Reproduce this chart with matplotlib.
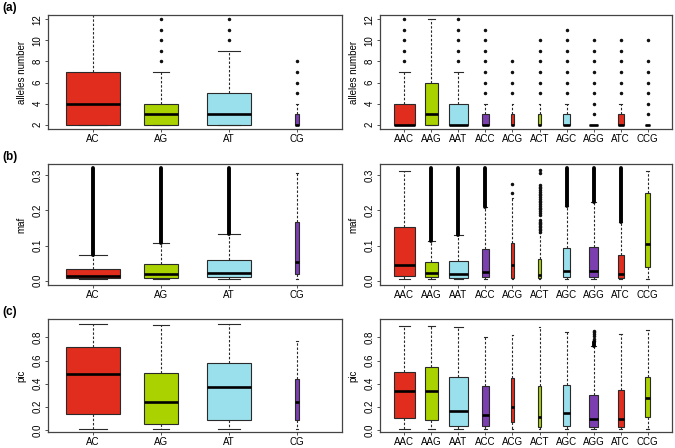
"""
plot.py -- boxplots of alleles number / maf / pic per motif
Di-nucleotide motifs on the left, tri-nucleotide motifs on the right.
"""

import matplotlib
matplotlib.use("Agg")
import matplotlib.pyplot as plt

plt.rcParams["font.family"] = ["Liberation Sans", "DejaVu Sans"]

# ---------------------------------------------------------------------------
# Data
# ---------------------------------------------------------------------------

di_labels = ["AC", "AG", "AT", "CG"]
tri_labels = ["AAC", "AAG", "AAT", "ACC", "ACG", "ACT", "AGC", "AGG", "ATC", "CCG"]

# relative group sizes (R varwidth -> box width ~ sqrt(n))
di_n = [9750, 3750, 6200, 40]
tri_n = [10000, 3750, 7900, 1060, 156, 190, 1140, 1500, 756, 506]

# alleles number
alleles_di_lo = [2, 2, 2, 2]
alleles_di_q1 = [2, 2, 2, 2]
alleles_di_med = [4, 3, 3, 2]
alleles_di_q3 = [7, 4, 5, 3]
alleles_di_hi = [14, 7, 9, 4]
alleles_di_out = [[], [8, 9, 10, 11, 12], [10, 11, 12], [5, 6, 7, 8]]

alleles_tri_lo = [2, 2, 2, 2, 2, 2, 2, 2, 2, 2]
alleles_tri_q1 = [2, 2, 2, 2, 2, 2, 2, 2, 2, 2]
alleles_tri_med = [2, 3, 2, 2, 2, 2, 2, 2, 2, 2]
alleles_tri_q3 = [4, 6, 4, 3, 3, 3, 3, 2, 3, 2]
alleles_tri_hi = [7, 12, 7, 4, 4, 4, 4, 2, 4, 2]
alleles_tri_out = [
    [8, 9, 10, 11, 12], [], [8, 9, 10, 11, 12], [5, 6, 7, 8, 9, 10, 11],
    [5, 6, 7, 8], [5, 6, 7, 8, 9, 10], [5, 6, 7, 8, 9, 10, 11],
    [3, 4, 5, 6, 7, 8, 9, 10], [5, 6, 7, 8, 9, 10], [3, 4, 5, 6, 7, 8, 10],
]

# maf
maf_di_lo = [0.004, 0.004, 0.004, 0.005]
maf_di_q1 = [0.0066, 0.0085, 0.0095, 0.020]
maf_di_med = [0.013, 0.018, 0.021, 0.054]
maf_di_q3 = [0.034, 0.048, 0.060, 0.166]
maf_di_hi = [0.074, 0.106, 0.134, 0.307]
maf_di_out = [[], [], [], []]
# outliers so dense they merge into one solid column (from, to)
maf_di_band = [(0.074, 0.321), (0.106, 0.321), (0.134, 0.321), None]

maf_tri_lo = [0.004, 0.004, 0.004, 0.004, 0.005, 0.004, 0.004, 0.004, 0.004, 0.005]
maf_tri_q1 = [0.014, 0.010, 0.0085, 0.0095, 0.0085, 0.006, 0.0095, 0.010, 0.0076, 0.039]
maf_tri_med = [0.044, 0.021, 0.018, 0.025, 0.045, 0.017, 0.026, 0.028, 0.019, 0.103]
maf_tri_q3 = [0.154, 0.052, 0.057, 0.090, 0.107, 0.061, 0.093, 0.097, 0.073, 0.250]
maf_tri_hi = [0.312, 0.113, 0.130, 0.210, 0.235, 0.137, 0.212, 0.223, 0.166, 0.312]
maf_tri_out = [
    [], [], [], [], [0.250, 0.275],
    [0.140, 0.144, 0.148, 0.152, 0.156, 0.160, 0.164, 0.168, 0.172,
     0.188, 0.193, 0.198, 0.203, 0.208, 0.213, 0.218, 0.223, 0.228,
     0.233, 0.238, 0.243, 0.248, 0.253, 0.258, 0.263, 0.268, 0.274,
     0.306, 0.316],
    [], [], [], [],
]
maf_tri_band = [None, (0.113, 0.321), (0.130, 0.321), (0.210, 0.321), None,
                None, (0.212, 0.321), (0.223, 0.321), (0.166, 0.321), None]

# pic
pic_di_lo = [0.009, 0.009, 0.009, 0.009]
pic_di_q1 = [0.137, 0.049, 0.089, 0.083]
pic_di_med = [0.486, 0.240, 0.369, 0.240]
pic_di_q3 = [0.717, 0.494, 0.580, 0.443]
pic_di_hi = [0.917, 0.909, 0.920, 0.766]
pic_di_out = [[], [], [], []]

pic_tri_lo = [0.008] * 10
pic_tri_q1 = [0.107, 0.084, 0.034, 0.031, 0.070, 0.025, 0.036, 0.028, 0.025, 0.112]
pic_tri_med = [0.337, 0.334, 0.163, 0.126, 0.200, 0.109, 0.146, 0.095, 0.093, 0.278]
pic_tri_q3 = [0.500, 0.547, 0.457, 0.376, 0.446, 0.379, 0.390, 0.303, 0.348, 0.455]
pic_tri_hi = [0.901, 0.900, 0.895, 0.806, 0.820, 0.890, 0.848, 0.724, 0.834, 0.865]
pic_tri_out = [[], [], [], [], [], [], [],
               [0.770, 0.790, 0.810, 0.830, 0.845, 0.855], [], []]
pic_tri_band = [None] * 7 + [(0.724, 0.760)] + [None, None]

# ---------------------------------------------------------------------------
# Style
# ---------------------------------------------------------------------------

CORES = ["#E02D1E", "#AAD200", "#9ADFEC", "#7B3FB0"]
TXT = 7


def desenhar_painel(ax, labels, n, lo, q1, med, q3, hi, out, band, ylim, yticks, ylabel):
    nmax = max(n)
    larguras = [0.8 * (v / nmax) ** 0.5 for v in n]
    stats = []
    for i in range(len(labels)):
        stats.append(dict(med=med[i], q1=q1[i], q3=q3[i],
                          whislo=lo[i], whishi=hi[i], fliers=out[i]))
    pos = list(range(1, len(labels) + 1))
    bp = ax.bxp(
        stats, positions=pos, widths=larguras,
        capwidths=[w * 0.5 for w in larguras],
        patch_artist=True, showfliers=True,
        boxprops=dict(edgecolor="#2a2a2a", linewidth=0.8),
        medianprops=dict(color="black", linewidth=1.9, solid_capstyle="butt"),
        whiskerprops=dict(color="#2a2a2a", linewidth=0.8, linestyle=(0, (2.2, 1.6))),
        capprops=dict(color="#2a2a2a", linewidth=0.8),
        flierprops=dict(marker="o", markersize=1.5, markerfacecolor="#111111",
                        markeredgecolor="#111111", linestyle="none"),
    )
    for i, caixa in enumerate(bp["boxes"]):
        caixa.set_facecolor(CORES[i % 4])
    if band is not None:
        for i, b in enumerate(band):
            if b is None:
                continue
            ax.vlines(pos[i], b[0], b[1], color="black", linewidth=2.8,
                      capstyle="round")

    ax.set_xlim(0.5 - 0.04 * len(labels), len(labels) + 0.5 + 0.04 * len(labels))
    ax.set_ylim(*ylim)
    ax.set_xticks(pos, labels)
    ax.set_yticks(yticks, [f"{t:g}" if isinstance(t, int) else f"{t:.1f}" for t in yticks])
    ax.tick_params(axis="both", labelsize=TXT, length=2.5, width=0.6,
                   color="#333333", pad=1.0)
    ax.tick_params(axis="y", labelrotation=90, pad=1.5)
    for lbl in ax.get_yticklabels():
        lbl.set_verticalalignment("center")
    ax.set_ylabel(ylabel, fontsize=TXT, labelpad=4)
    for sp in ax.spines.values():
        sp.set_linewidth(0.9)
        sp.set_color("#444444")


def main():
    fig = plt.figure(figsize=(6.75, 4.48), dpi=100)
    W, H = 675.0, 448.0

    linhas = [(15, 129), (164, 285), (319, 432)]
    colunas = [(48, 342), (380, 672)]
    eixos = []
    for (top, bot) in linhas:
        linha = []
        for (x0, x1) in colunas:
            linha.append(fig.add_axes([x0 / W, 1 - bot / H, (x1 - x0) / W, (bot - top) / H]))
        eixos.append(linha)

    al_ylim = (1.6, 12.4)
    al_ticks = [2, 4, 6, 8, 10, 12]
    desenhar_painel(eixos[0][0], di_labels, di_n, alleles_di_lo, alleles_di_q1,
                    alleles_di_med, alleles_di_q3, alleles_di_hi, alleles_di_out,
                    None, al_ylim, al_ticks, "alleles number")
    desenhar_painel(eixos[0][1], tri_labels, tri_n, alleles_tri_lo, alleles_tri_q1,
                    alleles_tri_med, alleles_tri_q3, alleles_tri_hi, alleles_tri_out,
                    None, al_ylim, al_ticks, "alleles number")

    maf_ylim = (-0.0128, 0.3328)
    maf_ticks = [0.0, 0.1, 0.2, 0.3]
    desenhar_painel(eixos[1][0], di_labels, di_n, maf_di_lo, maf_di_q1, maf_di_med,
                    maf_di_q3, maf_di_hi, maf_di_out, maf_di_band,
                    maf_ylim, maf_ticks, "maf")
    desenhar_painel(eixos[1][1], tri_labels, tri_n, maf_tri_lo, maf_tri_q1, maf_tri_med,
                    maf_tri_q3, maf_tri_hi, maf_tri_out, maf_tri_band,
                    maf_ylim, maf_ticks, "maf")

    pic_ylim = (-0.018, 0.96)
    pic_ticks = [0.0, 0.2, 0.4, 0.6, 0.8]
    desenhar_painel(eixos[2][0], di_labels, di_n, pic_di_lo, pic_di_q1, pic_di_med,
                    pic_di_q3, pic_di_hi, pic_di_out, None,
                    pic_ylim, pic_ticks, "pic")
    desenhar_painel(eixos[2][1], tri_labels, tri_n, pic_tri_lo, pic_tri_q1, pic_tri_med,
                    pic_tri_q3, pic_tri_hi, pic_tri_out, pic_tri_band,
                    pic_ylim, pic_ticks, "pic")

    for letra, y in [("(a)", 8), ("(b)", 157), ("(c)", 312)]:
        fig.text(2 / W, 1 - y / H, letra, fontsize=8.5, fontweight="bold",
                 va="center", ha="left")

    fig.savefig("out.png", dpi=100)
    plt.close(fig)


if __name__ == "__main__":
    main()
